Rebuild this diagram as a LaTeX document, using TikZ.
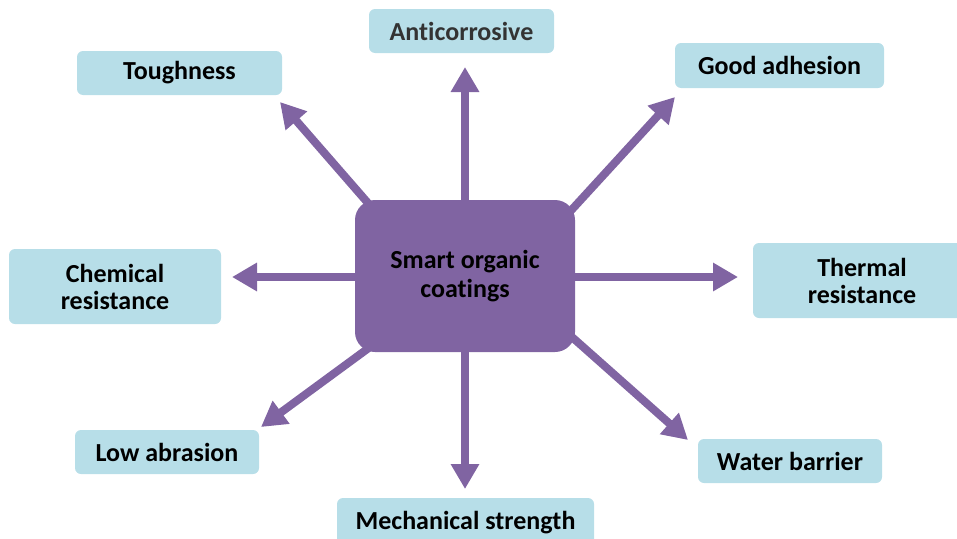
\documentclass[tikz,border=0pt]{standalone}
\usepackage{fontspec}
\setmainfont{Carlito}[Ligatures={NoCommon,NoRequired,NoContextual}]
\usetikzlibrary{arrows.meta,backgrounds}
\definecolor{purp}{HTML}{8064A2}
\definecolor{lblue}{HTML}{B7DEE8}
\begin{document}
\begin{tikzpicture}[x=1pt,y=-1pt,
  prop/.style={fill=lblue,rounded corners=6pt,inner sep=0pt,align=center,
    font=\fontsize{26}{27}\selectfont\bfseries},
  hub/.style={fill=purp,rounded corners=20pt,inner sep=0pt,align=center,
    minimum width=220pt,minimum height=152pt,font=\fontsize{26}{29}\selectfont\bfseries},
  arr/.style={draw=purp,line width=8pt,-{Triangle[width=27pt,length=25pt]}}]
\useasboundingbox (0,0) rectangle (957,538);
\begin{scope}
\clip (0,0) rectangle (957,538);
\node[hub] (c) at (465,276) {Smart organic\\coatings};
\node[prop,minimum width=185pt,minimum height=44pt,text=black!80] (ant) at (461.5,31) {Anticorrosive};
\node[prop,minimum width=205pt,minimum height=44pt] (tou) at (179.5,73) {Toughness};
\node[prop,minimum width=209pt,minimum height=45pt] (good) at (779.5,65.5) {Good adhesion};
\node[prop,minimum width=212pt,minimum height=75pt] (chem) at (115,286.5) {Chemical\\resistance};
\node[prop,minimum width=212pt,minimum height=75pt] (therm) at (859,280.5) {\hspace*{6pt}Thermal\\\hspace*{6pt}resistance};
\node[prop,minimum width=184pt,minimum height=44pt] (low) at (167,452) {Low abrasion};
\node[prop,minimum width=257pt,minimum height=50pt] (mech) at (465.5,523) {\raisebox{2pt}{Mechanical strength}};
\node[prop,minimum width=184pt,minimum height=44pt] (water) at (790,461) {Water barrier};
\coordinate (tAnt) at (465,67);
\coordinate (tTou) at (280,102);
\coordinate (tGood) at (675,97);
\coordinate (tChem) at (232,277);
\coordinate (tTherm) at (738,277);
\coordinate (tLow) at (261,427);
\coordinate (tMech) at (465,489);
\coordinate (tWater) at (688,440);
\begin{pgfonlayer}{background}
\draw[arr] (c.center |- 0,230) -- (tAnt);
\draw[arr] (381,218) -- (tTou);
\draw[arr] (555,228) -- (tGood);
\draw[arr] (tChem -| 380,0) -- (tChem);
\draw[arr] (tTherm -| 550,0) -- (tTherm);
\draw[arr] (385,336) -- (tLow);
\draw[arr] (c.center |- 0,320) -- (tMech);
\draw[arr] (555,322) -- (tWater);
\end{pgfonlayer}
\end{scope}
\end{tikzpicture}
\end{document}
